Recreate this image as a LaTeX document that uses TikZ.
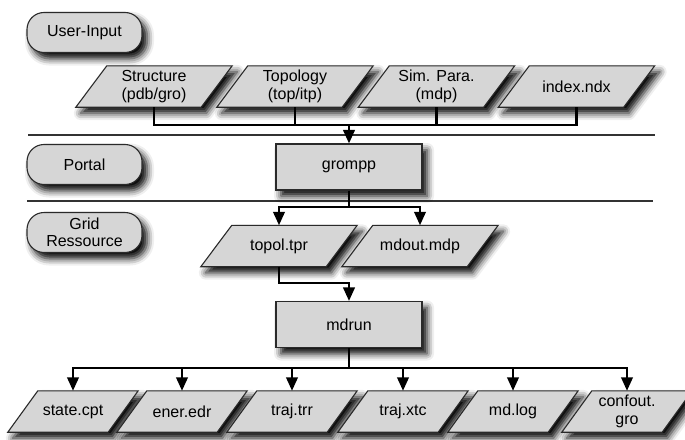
\documentclass[tikz,border=0pt]{standalone}
\usepackage{fontspec}
\setmainfont{Liberation Sans}
\usetikzlibrary{shadows.blur,arrows.meta}
\definecolor{boxgray}{HTML}{D6D6D6}
\definecolor{edgegray}{HTML}{2A2A2A}
\pgfdeclarelayer{background}
\pgfsetlayers{background,main}

% slanted file outline behind a node: #1 node name, #2 slant
\newcommand\fileoutline[2]{%
  \path[filebox] ([xshift=#2]#1.north west) -- (#1.north east)
    -- ([xshift=-#2]#1.south east) -- (#1.south west) -- cycle;}

\begin{document}
\begin{tikzpicture}[x=1pt,y=-1pt,
  font=\fontsize{16}{17.5}\selectfont,
  drop/.style={blur shadow={shadow xshift=5pt,shadow yshift=-6pt,
      shadow blur radius=7pt,shadow opacity=100}},
  lane/.style={draw=edgegray,fill=boxgray,line width=1.1pt,rounded corners=17pt,
      minimum width=115pt,minimum height=40pt,inner sep=0pt,align=center,drop},
  task/.style={draw=edgegray,fill=boxgray,line width=1.1pt,rectangle,
      minimum width=146pt,minimum height=46pt,inner sep=0pt,drop},
  filebox/.style={draw=edgegray,fill=boxgray,line width=1.1pt,line join=miter,drop},
  file/.style={rectangle,minimum width=156pt,minimum height=41pt,inner sep=0pt,align=center},
  outfile/.style={file,minimum width=130pt},
  link/.style={line width=2.4pt},
  flow/.style={link,-{Triangle[width=11.5pt,length=13.5pt,fill=black]}},
  sep/.style={line width=1.2pt,draw=black!80}]

\useasboundingbox (0,0) rectangle (685,439);

% lane separators
\draw[sep] (28,135) -- (655,135);
\draw[sep] (27,201) -- (653,201);

% lane labels
\node[lane] (user)   at (84.5,32.5)  {User-Input};
\node[lane] (portal) at (84.5,164.5) {Portal};
\node[lane] (grid)   at (84.5,232.5) {Grid\\Ressource};

% inputs
\node[file] (struct) at (154,86.5)   {Structure\\(pdb/gro)};
\node[file] (topo)   at (295,86.5)   {Topology\\(top/itp)};
\node[file] (para)   at (436.5,86.5) {Sim. Para.\\(mdp)};
\node[file] (index)  at (576.5,86.5) {index.ndx};

% processing steps
\node[task] (grompp) at (349,167)   {grompp};
\node[task] (mdrun)  at (349,324.5) {mdrun};

% intermediate files
\node[file] (topol) at (279,246) {topol.tpr};
\node[file] (mdout) at (420,246) {mdout.mdp};

% outputs
\node[outfile] (cpt) at (73,411.5)  {state.cpt};
\node[outfile] (edr) at (182,411.5) {ener.edr};
\node[outfile] (trr) at (292,411.5) {traj.trr};
\node[outfile] (xtc) at (403,411.5) {traj.xtc};
\node[outfile] (log) at (513,411.5) {md.log};
\node[outfile] (gro) at (627,411.5) {confout.\\gro};

% slanted outlines of the file nodes
\begin{pgfonlayer}{background}
  \foreach \f in {struct,topo,para,index,topol,mdout} {\fileoutline{\f}{31pt}}
  \foreach \f in {cpt,edr,trr,xtc,log,gro} {\fileoutline{\f}{30pt}}
\end{pgfonlayer}

% junction points
\coordinate (jin)  at (349,125);
\coordinate (jpre) at (349,207);
\coordinate (jtpr) at (349,283);
\coordinate (jrun) at (349,368);

% inputs -> grompp
\draw[link] (struct.south) |- (jin);
\draw[link] (topo.south)   |- (jin);
\draw[link] (para.south)   |- (jin);
\draw[link] (index.south)  |- (jin);
\draw[flow] (jin) -- (grompp.north);

% grompp -> topol.tpr, mdout.mdp
\draw[link] (grompp.south) -- (jpre);
\draw[flow] (jpre) -| (topol.north);
\draw[flow] (jpre) -| (mdout.north);

% topol.tpr -> mdrun
\draw[flow] (topol.south) |- (jtpr) -- (mdrun.north);

% mdrun -> outputs
\draw[link] (mdrun.south) -- (jrun);
\foreach \o in {cpt,edr,trr,xtc,log,gro}
  \draw[flow] (jrun) -| (\o.north);
\end{tikzpicture}
\end{document}
